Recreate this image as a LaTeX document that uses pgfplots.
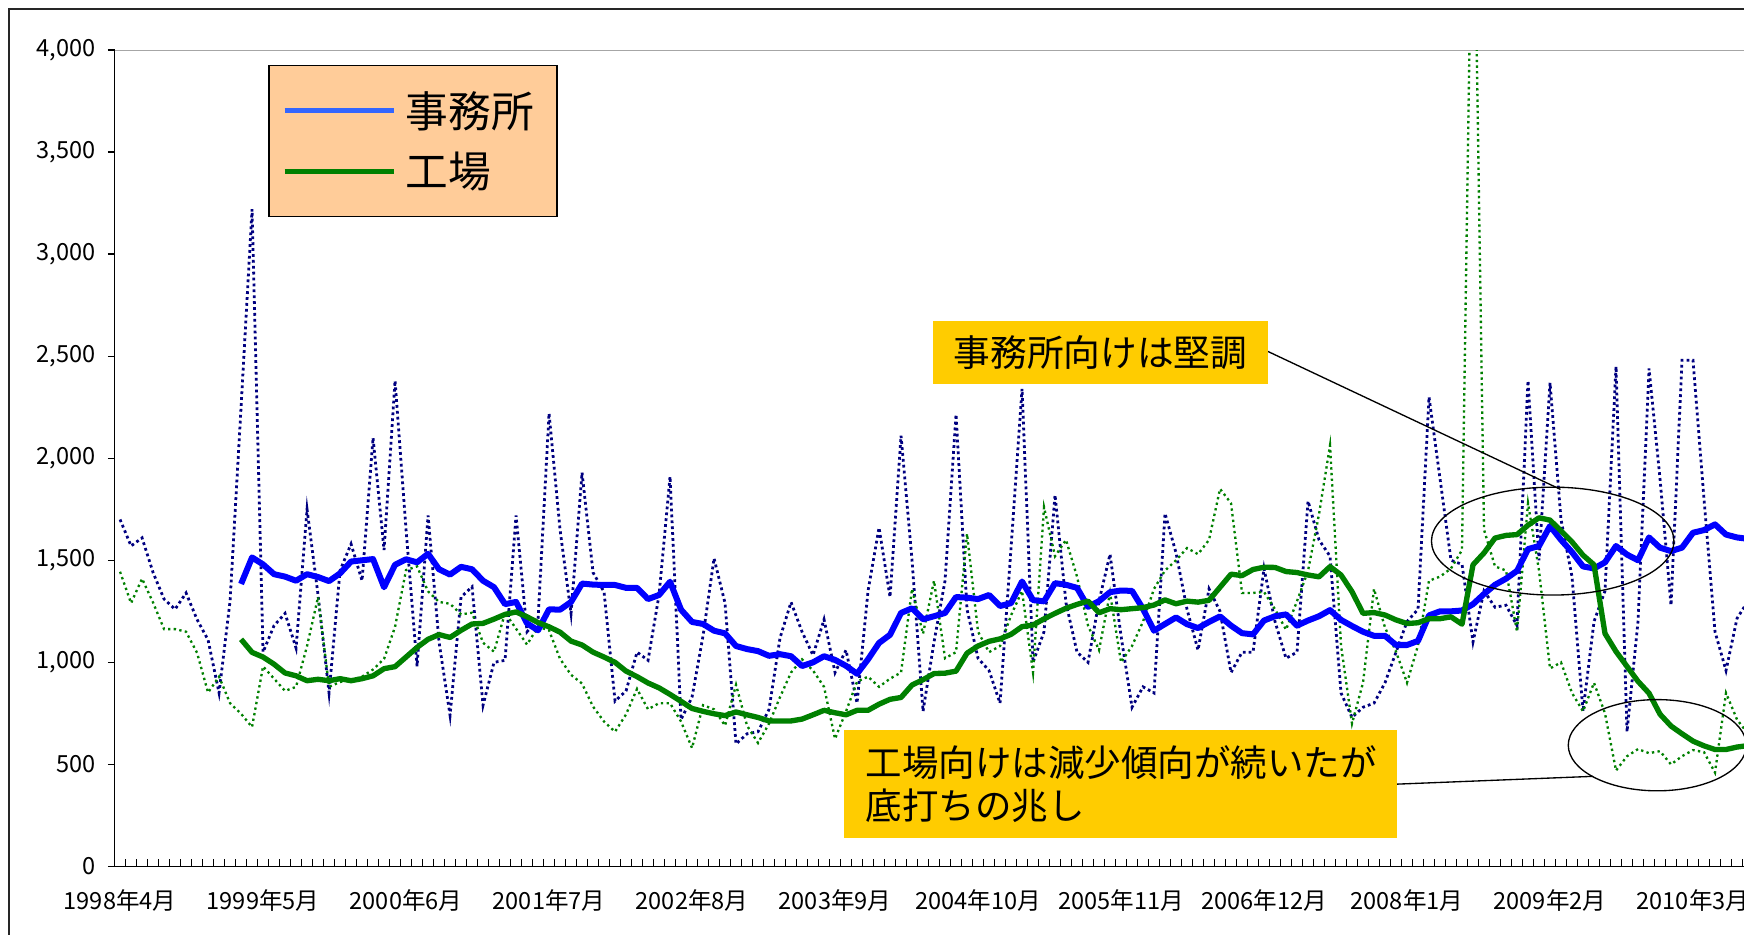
\documentclass[border=0pt]{standalone}
\usepackage{fontspec}
\setmainfont{Noto Sans CJK JP}
\usepackage{pgfplots}
\usepackage{pgfplotstable}
\pgfplotsset{compat=1.18}
\definecolor{navyd}{RGB}{0,0,128}
\definecolor{grn}{RGB}{0,128,0}
\definecolor{blu}{RGB}{0,0,255}
\definecolor{legblue}{RGB}{51,102,255}
\definecolor{peach}{RGB}{255,204,153}
\definecolor{gold}{RGB}{255,204,0}

% 事務所 monthly (index 0 = 1998年4月)
\pgfplotstableread{
i v
0 1700
1 1570
2 1610
3 1440
4 1310
5 1260
6 1340
7 1210
8 1110
9 850
10 1300
11 2250
12 3220
13 1050
14 1180
15 1240
16 1070
17 1750
18 1330
19 850
20 1450
21 1580
22 1400
23 2100
24 1550
25 2380
26 1650
27 980
28 1720
29 1100
30 740
31 1320
32 1370
33 790
34 1000
35 1010
36 1720
37 1150
38 1210
39 2220
40 1650
41 1240
42 1930
43 1440
44 1345
45 810
46 860
47 1050
48 1010
49 1330
50 1910
51 720
52 830
53 1130
54 1510
55 1290
56 600
57 650
58 660
59 770
60 1120
61 1295
62 1150
63 1035
64 1210
65 950
66 1060
67 800
68 1350
69 1660
70 1320
71 2110
72 1500
73 760
74 1100
75 1400
76 2215
77 1260
78 1020
79 960
80 800
81 1560
82 2340
83 1000
84 1150
85 1820
86 1290
87 1050
88 1000
89 1300
90 1530
91 1130
92 780
93 880
94 850
95 1730
96 1536
97 1260
98 1060
99 1360
100 1250
101 950
102 1050
103 1050
104 1460
105 1200
106 1020
107 1050
108 1790
109 1600
110 1520
111 850
112 730
113 780
114 800
115 900
116 1050
117 1200
118 1260
119 2300
120 1900
121 1500
122 1480
123 1100
124 1350
125 1270
126 1280
127 1180
128 2380
129 1500
130 2370
131 1700
132 1420
133 760
134 1200
135 1350
136 2450
137 660
138 1200
139 2440
140 1900
141 1280
142 2480
143 2480
144 1800
145 1150
146 960
147 1215
148 1300
}\officemon

% 工場 monthly
\pgfplotstableread{
i v
0 1444
1 1290
2 1410
3 1293
4 1163
5 1163
6 1150
7 1047
8 852
9 930
10 800
11 748
12 683
13 980
14 920
15 860
16 880
17 1080
18 1320
19 880
20 904
21 913
22 930
23 965
24 1017
25 1174
26 1452
27 1470
28 1348
29 1296
30 1287
31 1235
32 1243
33 1096
34 1052
35 1243
36 1165
37 1087
38 1174
39 1157
40 1017
41 939
42 896
43 783
44 710
45 660
46 745
47 870
48 770
49 800
50 800
51 710
52 580
53 790
54 770
55 690
56 890
57 690
58 605
59 700
60 830
61 950
62 1015
63 960
64 880
65 625
66 760
67 905
68 930
69 880
70 920
71 950
72 1360
73 1140
74 1400
75 1020
76 1050
77 1630
78 1150
79 1050
80 1080
81 1230
82 1350
83 950
84 1760
85 1520
86 1600
87 1420
88 1180
89 1060
90 1340
91 1000
92 1080
93 1200
94 1360
95 1450
96 1500
97 1560
98 1530
99 1600
100 1850
101 1780
102 1340
103 1340
104 1345
105 1260
106 1160
107 1300
108 1448
109 1726
110 2063
111 1083
112 700
113 900
114 1360
115 1170
116 1053
117 900
118 1083
119 1400
120 1420
121 1460
122 1550
123 5200
124 1650
125 1470
126 1450
127 1150
128 1780
129 1450
130 970
131 1000
132 850
133 760
134 900
135 750
136 470
137 540
138 575
139 555
140 565
141 500
142 540
143 570
144 560
145 460
146 850
147 720
148 650
}\factorymon

% 事務所 12-month average
\pgfplotstableread{
i v
11 1384
12 1514
13 1480
14 1432
15 1420
16 1400
17 1432
18 1418
19 1398
20 1436
21 1494
22 1500
23 1506
24 1368
25 1478
26 1505
27 1490
28 1532
29 1456
30 1430
31 1468
32 1456
33 1400
34 1368
35 1285
36 1296
37 1191
38 1157
39 1260
40 1258
41 1296
42 1386
43 1381
44 1379
45 1379
46 1365
47 1365
48 1310
49 1330
50 1395
51 1258
52 1198
53 1188
54 1155
55 1142
56 1080
57 1065
58 1055
59 1032
60 1040
61 1030
62 982
63 1000
64 1030
65 1012
66 983
67 944
68 1015
69 1095
70 1135
71 1242
72 1265
73 1211
74 1226
75 1242
76 1320
77 1317
78 1310
79 1330
80 1276
81 1290
82 1396
83 1305
84 1299
85 1388
86 1380
87 1365
88 1272
89 1300
90 1344
91 1352
92 1350
93 1262
94 1155
95 1188
96 1220
97 1187
98 1168
99 1198
100 1225
101 1180
102 1143
103 1137
104 1205
105 1226
106 1235
107 1180
108 1205
109 1226
110 1256
111 1208
112 1178
113 1150
114 1130
115 1130
116 1085
117 1085
118 1105
119 1230
120 1250
121 1250
122 1254
123 1285
124 1335
125 1380
126 1410
127 1448
128 1555
129 1570
130 1668
131 1600
132 1540
133 1470
134 1460
135 1490
136 1570
137 1528
138 1500
139 1612
140 1562
141 1545
142 1562
143 1635
144 1648
145 1676
146 1626
147 1612
148 1605
}\officema

% 工場 12-month average
\pgfplotstableread{
i v
11 1113
12 1049
13 1026
14 991
15 948
16 934
17 910
18 917
19 910
20 920
21 910
22 920
23 934
24 969
25 979
26 1026
27 1073
28 1113
29 1136
30 1122
31 1157
32 1188
33 1191
34 1212
35 1235
36 1247
37 1223
38 1195
39 1174
40 1148
41 1104
42 1085
43 1050
44 1026
45 1000
46 957
47 930
48 899
49 875
50 843
51 809
52 774
53 760
54 748
55 739
56 757
57 743
58 730
59 713
60 713
61 713
62 722
63 743
64 765
65 753
66 743
67 765
68 765
69 795
70 819
71 828
72 889
73 915
74 945
75 947
76 957
77 1045
78 1080
79 1103
80 1115
81 1137
82 1175
83 1183
84 1213
85 1240
86 1265
87 1284
88 1300
89 1243
90 1263
91 1258
92 1263
93 1268
94 1281
95 1306
96 1287
97 1300
98 1295
99 1304
100 1368
101 1432
102 1425
103 1455
104 1466
105 1465
106 1445
107 1440
108 1428
109 1419
110 1469
111 1428
112 1346
113 1240
114 1244
115 1232
116 1208
117 1190
118 1194
119 1214
120 1214
121 1223
122 1187
123 1478
124 1536
125 1609
126 1622
127 1626
128 1672
129 1708
130 1697
131 1644
132 1590
133 1525
134 1478
135 1141
136 1053
137 980
138 907
139 849
140 746
141 688
142 650
143 614
144 591
145 573
146 573
147 585
148 592
}\factoryma

\begin{document}
\begin{tikzpicture}
\useasboundingbox (0pt,0pt) rectangle (784pt,-420pt);
\begin{scope}
\clip (0pt,0pt) rectangle (784pt,-420pt);
% outer chart frame
\draw[line width=0.8pt, black!85] (4pt,-800pt) -- (4pt,-4pt) -- (900pt,-4pt);
\begin{axis}[
  at={(51.5pt,-389.5pt)}, anchor=south west,
  scale only axis,
  width=751.6pt, height=367pt,
  xmin=-0.5, xmax=151.5,
  ymin=0, ymax=4000,
  axis x line*=bottom, axis y line*=left,
  axis line style={-, line width=0.8pt, black},
  xtick={0,13,...,143},
  xticklabels={1998年4月,1999年5月,2000年6月,2001年7月,2002年8月,2003年9月,2004年10月,2005年11月,2006年12月,2008年1月,2009年2月,2010年3月},
  minor xtick={-0.5,0.5,...,151.5},
  ytick={0,500,...,4000},
  tick align=inside,
  major x tick style={draw=none},
  minor tick length=3.5pt,
  major tick length=3pt,
  major y tick style={xshift=-3pt, black, line width=0.6pt},
  minor x tick style={black, line width=0.6pt},
  xtick pos=bottom, ytick pos=left,
  /pgf/number format/assume math mode=true,
  yticklabel style={/pgf/number format/1000 sep={,}, font=\fontsize{10.6}{12}\selectfont, xshift=-5pt},
  xticklabel style={font=\fontsize{10.6}{12}\selectfont, yshift=-7pt},
  legend style={at={(0.0918,0.9823)}, anchor=north west, fill=peach, draw=black, line width=0.8pt,
     font=\fontsize{19.2}{22}\selectfont, inner xsep=6pt, inner ysep=6.8pt, row sep=0pt,
     nodes={inner xsep=4.3pt, inner ysep=4.8pt}},
  legend cell align=left,
  legend image code/.code={\draw[#1] (0pt,0pt) -- (49pt,0pt);},
]
\draw[gray!70, line width=0.8pt] (axis cs:-0.5,4000) -- (axis cs:151.5,4000);
\addplot[navyd, line width=1.25pt, dash pattern=on 1.25pt off 1.4pt, forget plot] table[x=i,y=v] {\officemon};
\addplot[grn, line width=1.05pt, dash pattern=on 1.05pt off 1.5pt, forget plot] table[x=i,y=v] {\factorymon};
\addplot[blu, line width=2.7pt, line join=round, forget plot] table[x=i,y=v] {\officema};
\addplot[grn, line width=2.4pt, line join=round, forget plot] table[x=i,y=v] {\factoryma};
\addlegendimage{legblue, line width=2.2pt}
\addlegendentry{事務所}
\addlegendimage{grn, line width=2.2pt}
\addlegendentry{工場}
\end{axis}
\begin{scope}[x=0.5pt, y=-0.5pt]
  \draw[line width=0.6pt] (1140,316) -- (1403,440);
  \draw[line width=0.6pt] (1256,705) -- (1432,698);
  \draw[line width=0.6pt] (1396,486.5) ellipse [x radius=54.5pt, y radius=24.25pt];
  \draw[line width=0.6pt] (1490,670) ellipse [x radius=40pt, y radius=20.5pt];
  \node[fill=gold, anchor=north west, minimum width=151pt, minimum height=28.5pt, inner sep=0pt,
        font=\fontsize{16.5}{20}\selectfont] at (838,288) {事務所向けは堅調};
  \node[fill=gold, anchor=north west, minimum height=48.5pt, inner xsep=10pt, inner ysep=4pt,
        text width=229pt, align=left, font=\fontsize{16.4}{19}\selectfont] at (758,656)
        {工場向けは減少傾向が続いたが\\底打ちの兆し};
\end{scope}
\end{scope}
\end{tikzpicture}
\end{document}
